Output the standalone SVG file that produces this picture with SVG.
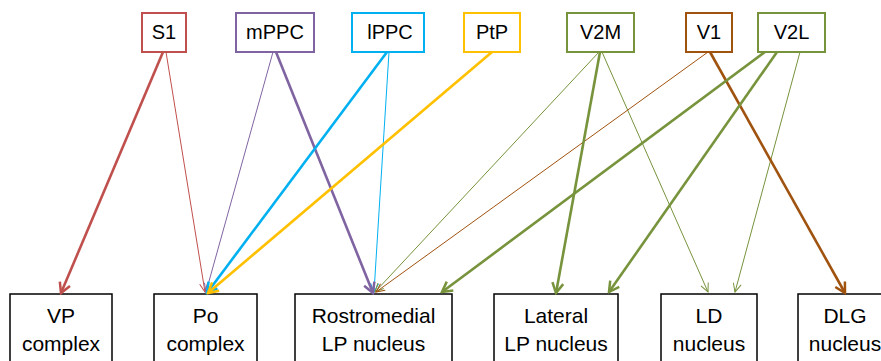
<svg xmlns="http://www.w3.org/2000/svg" width="881" height="361" viewBox="0 0 881 361">
<style>
text{font-family:"Liberation Sans",Arial,sans-serif;fill:#000;text-anchor:middle}
.top text{font-size:20px}
.bot text{font-size:21px}
.tb{fill:#fff;stroke-width:2}
.bb{fill:#fff;stroke:#000;stroke-width:1.5}
.c line{fill:none}
.k{stroke-width:2.6}
.n{stroke-width:1}
.red{stroke:#C0504D}.pur{stroke:#8064A2}.blu{stroke:#00B0F0}.yel{stroke:#FFC000}.grn{stroke:#77933C}.brn{stroke:#A0520F}
</style>
<defs>
<marker id="kr" viewBox="0 0 14 14" markerWidth="14" markerHeight="14" refX="12" refY="7" orient="auto" markerUnits="userSpaceOnUse"><path d="M2,1.5 L12,7 L2,12.5" fill="none" stroke="#C0504D" stroke-width="2.5"/></marker>
<marker id="kp" viewBox="0 0 14 14" markerWidth="14" markerHeight="14" refX="12" refY="7" orient="auto" markerUnits="userSpaceOnUse"><path d="M2,1.5 L12,7 L2,12.5" fill="none" stroke="#8064A2" stroke-width="2.5"/></marker>
<marker id="kb" viewBox="0 0 14 14" markerWidth="14" markerHeight="14" refX="12" refY="7" orient="auto" markerUnits="userSpaceOnUse"><path d="M2,1.5 L12,7 L2,12.5" fill="none" stroke="#00B0F0" stroke-width="2.5"/></marker>
<marker id="ky" viewBox="0 0 14 14" markerWidth="14" markerHeight="14" refX="12" refY="7" orient="auto" markerUnits="userSpaceOnUse"><path d="M2,1.5 L12,7 L2,12.5" fill="none" stroke="#FFC000" stroke-width="2.5"/></marker>
<marker id="kg" viewBox="0 0 14 14" markerWidth="14" markerHeight="14" refX="12" refY="7" orient="auto" markerUnits="userSpaceOnUse"><path d="M2,1.5 L12,7 L2,12.5" fill="none" stroke="#77933C" stroke-width="2.5"/></marker>
<marker id="kn" viewBox="0 0 14 14" markerWidth="14" markerHeight="14" refX="12" refY="7" orient="auto" markerUnits="userSpaceOnUse"><path d="M2,1.5 L12,7 L2,12.5" fill="none" stroke="#A0520F" stroke-width="2.5"/></marker>
<marker id="nr" viewBox="0 0 12 12" markerWidth="12" markerHeight="12" refX="10" refY="6" orient="auto" markerUnits="userSpaceOnUse"><path d="M1.5,2 L10,6 L1.5,10" fill="none" stroke="#C0504D" stroke-width="1"/></marker>
<marker id="np" viewBox="0 0 12 12" markerWidth="12" markerHeight="12" refX="10" refY="6" orient="auto" markerUnits="userSpaceOnUse"><path d="M1.5,2 L10,6 L1.5,10" fill="none" stroke="#8064A2" stroke-width="1"/></marker>
<marker id="nb" viewBox="0 0 12 12" markerWidth="12" markerHeight="12" refX="10" refY="6" orient="auto" markerUnits="userSpaceOnUse"><path d="M1.5,2 L10,6 L1.5,10" fill="none" stroke="#00B0F0" stroke-width="1"/></marker>
<marker id="ng" viewBox="0 0 12 12" markerWidth="12" markerHeight="12" refX="10" refY="6" orient="auto" markerUnits="userSpaceOnUse"><path d="M1.5,2 L10,6 L1.5,10" fill="none" stroke="#77933C" stroke-width="1"/></marker>
<marker id="nn" viewBox="0 0 12 12" markerWidth="12" markerHeight="12" refX="10" refY="6" orient="auto" markerUnits="userSpaceOnUse"><path d="M1.5,2 L10,6 L1.5,10" fill="none" stroke="#A0520F" stroke-width="1"/></marker>
</defs>
<rect width="881" height="361" fill="#fff"/>
<g class="top">
<g id="S1"><rect class="tb red" x="142" y="13" width="44" height="39"/><text x="164" y="39">S1</text></g>
<g id="mPPC"><rect class="tb pur" x="236" y="13" width="78" height="39"/><text x="275" y="39">mPPC</text></g>
<g id="lPPC"><rect class="tb blu" x="352" y="13" width="72" height="39"/><text x="390" y="39">lPPC</text></g>
<g id="PtP"><rect class="tb yel" x="464" y="13" width="56" height="39"/><text x="492" y="39">PtP</text></g>
<g id="V2M"><rect class="tb grn" x="567" y="13" width="67" height="39"/><text x="600.5" y="39">V2M</text></g>
<g id="V1"><rect class="tb brn" x="686" y="13" width="46" height="39"/><text x="709" y="39">V1</text></g>
<g id="V2L"><rect class="tb grn" x="758" y="13" width="67" height="39"/><text x="791.5" y="39">V2L</text></g>
</g>
<g class="bot">
<g id="VP"><rect class="bb" x="10" y="294" width="102" height="80"/><text x="61" y="323">VP</text><text x="61" y="351">complex</text></g>
<g id="Po"><rect class="bb" x="154" y="294" width="103" height="80"/><text x="205.5" y="323">Po</text><text x="205.5" y="351">complex</text></g>
<g id="RLP"><rect class="bb" x="295" y="294" width="157" height="80"/><text x="373.5" y="323">Rostromedial</text><text x="373.5" y="351">LP nucleus</text></g>
<g id="LLP"><rect class="bb" x="494" y="294" width="124" height="80"/><text x="556" y="323">Lateral</text><text x="556" y="351">LP nucleus</text></g>
<g id="LD"><rect class="bb" x="661" y="294" width="96" height="80"/><text x="709" y="323">LD</text><text x="709" y="351">nucleus</text></g>
<g id="DLG"><rect class="bb" x="798" y="294" width="96" height="80"/><text x="845" y="323">DLG</text><text x="845" y="351">nucleus</text></g>
</g>
<g class="c" id="connectors">
<line class="n red" x1="166" y1="52" x2="205" y2="292" marker-end="url(#nr)"/>
<line class="n pur" x1="273" y1="52" x2="206" y2="292" marker-end="url(#np)"/>
<line class="n blu" x1="389" y1="52" x2="374" y2="292" marker-end="url(#nb)"/>
<line class="n grn" x1="599" y1="52" x2="375" y2="292" marker-end="url(#ng)"/>
<line class="n grn" x1="602" y1="52" x2="708" y2="292" marker-end="url(#ng)"/>
<line class="n brn" x1="708" y1="52" x2="376" y2="292" marker-end="url(#nn)"/>
<line class="n grn" x1="800" y1="52" x2="735" y2="292" marker-end="url(#ng)"/>
<line class="k red" x1="163" y1="52" x2="61" y2="293" marker-end="url(#kr)"/>
<line class="k pur" x1="276" y1="52" x2="373" y2="293" marker-end="url(#kp)"/>
<line class="k blu" x1="387" y1="52" x2="207" y2="293" marker-end="url(#kb)"/>
<line class="k grn" x1="600" y1="52" x2="556" y2="293" marker-end="url(#kg)"/>
<line class="k brn" x1="710" y1="52" x2="845" y2="293" marker-end="url(#kn)"/>
<line class="k grn" x1="765" y1="52" x2="442" y2="292" marker-end="url(#kg)"/>
<line class="k grn" x1="777" y1="52" x2="609" y2="292" marker-end="url(#kg)"/>
<line class="k yel" x1="492" y1="52" x2="208" y2="293" marker-end="url(#ky)"/>
</g>
</svg>
